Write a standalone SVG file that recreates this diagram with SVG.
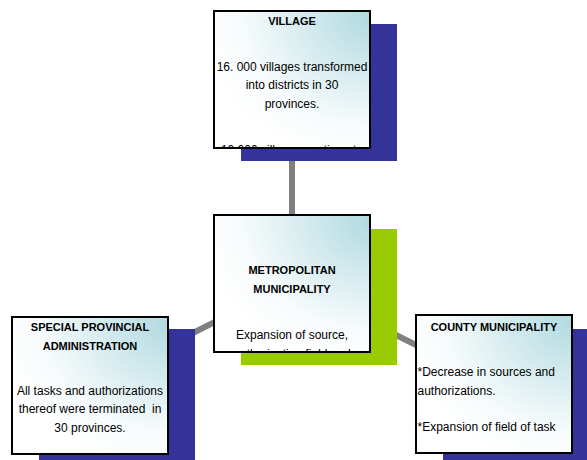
<svg xmlns="http://www.w3.org/2000/svg" width="587" height="460" viewBox="0 0 587 460">
<style>
.box{stroke:#000;stroke-width:2;fill:url(#g)}
.sh-b{fill:#333399}
.sh-g{fill:#99cc00}
.conn{stroke:#808080;stroke-width:6;fill:none}
text{font-family:"Liberation Sans",Arial,sans-serif;font-size:12px;fill:#000}
.t{font-weight:bold;font-size:11px;text-anchor:middle}
.c{text-anchor:middle}
</style>
<defs>
<radialGradient id="g" cx="1" cy="0" r="1.1" fx="1" fy="0.05">
<stop offset="0" stop-color="#b2dae0"/>
<stop offset="0.35" stop-color="#d2eaed"/>
<stop offset="0.75" stop-color="#f7fbfc"/>
<stop offset="1" stop-color="#ffffff"/>
</radialGradient>
<clipPath id="cv"><rect x="214" y="11" width="156" height="137"/></clipPath>
<clipPath id="cm"><rect x="214" y="215" width="156" height="137"/></clipPath>
</defs>
<rect width="587" height="460" fill="#fff"/>
<g id="connectors">
<line class="conn" x1="292" y1="140" x2="292" y2="283"/>
<line class="conn" x1="292" y1="283" x2="90" y2="385"/>
<line class="conn" x1="292" y1="283" x2="494" y2="384"/>
</g>
<g id="village">
<rect class="sh-b" x="241" y="24" width="156" height="137"/>
<rect class="box" x="214" y="11" width="156" height="137"/>
<g clip-path="url(#cv)">
<text class="t" x="292" y="25">VILLAGE</text>
<text class="c" x="292" y="71">16. 000 villages transformed</text>
<text class="c" x="292" y="89">into districts in 30</text>
<text class="c" x="292" y="108">provinces.</text>
<text class="c" x="292" y="153.5">10.000 villages continue to</text>
</g>
</g>
<g id="metropolitan">
<rect class="sh-g" x="241" y="229" width="156" height="136"/>
<rect class="box" x="214" y="215" width="156" height="137"/>
<g clip-path="url(#cm)">
<text class="t" x="292" y="274">METROPOLITAN</text>
<text class="t" x="292" y="293">MUNICIPALITY</text>
<text class="c" x="292" y="339">Expansion of source,</text>
<text class="c" x="292" y="357.5">authorization field and</text>
</g>
</g>
<g id="special">
<rect class="sh-b" x="39" y="329" width="156" height="137"/>
<rect class="box" x="12" y="317" width="156" height="137"/>
<text class="t" x="90" y="331">SPECIAL PROVINCIAL</text>
<text class="t" x="90" y="350">ADMINISTRATION</text>
<text class="c" x="90" y="395">All tasks and authorizations</text>
<text class="c" x="90" y="413" xml:space="preserve">thereof were terminated  in</text>
<text class="c" x="90" y="432">30 provinces.</text>
</g>
<g id="county">
<rect class="sh-b" x="443" y="329" width="156" height="137"/>
<rect class="box" x="416" y="315" width="156" height="138"/>
<text class="t" x="494" y="331">COUNTY MUNICIPALITY</text>
<text x="417.5" y="376">*Decrease in sources and</text>
<text x="417.5" y="395">authorizations.</text>
<text x="417.5" y="431">*Expansion of field of task</text>
</g>
</svg>
